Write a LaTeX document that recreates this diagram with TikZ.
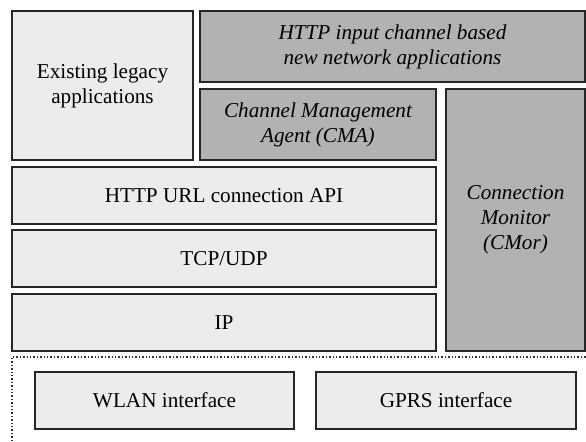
\documentclass[tikz,border=0pt]{standalone}
\usepackage{fontspec}
\setmainfont{Liberation Serif}
\usetikzlibrary{positioning}

\begin{document}
\begin{tikzpicture}[
  x=0.5pt, y=-0.5pt,
  lightbox/.style={rectangle, draw=black!85, line width=0.8pt, fill=gray!15,
    align=center, font=\fontsize{10.6}{12.6}\selectfont, inner sep=0pt},
  darkbox/.style={lightbox, fill=gray!60, font=\fontsize{10.6}{12.6}\selectfont\itshape},
  sepline/.style={densely dotted, line width=0.7pt, black!80}
]
\useasboundingbox (0,0) rectangle (586,441);
% === Applications ===
\node[lightbox, minimum width=90.5pt, minimum height=74.5pt] (legacy) at (102.5,85.5)
  {Existing legacy\\applications};
\node[darkbox, minimum width=192.5pt, minimum height=35.5pt] (newapps) at (392.5,46.5)
  {HTTP input channel based\\new network applications};
\node[darkbox, minimum width=118pt, minimum height=35.5pt] (cma) at (318,124.5)
  {Channel Management\\Agent (CMA)};
% === Protocol stack ===
\node[lightbox, minimum width=212pt, minimum height=28.5pt] (urlapi) at (224,195.5)
  {HTTP URL connection API};
\node[lightbox, minimum width=212pt, minimum height=28.5pt] (tcpudp) at (224,258.5)
  {TCP/UDP};
\node[lightbox, minimum width=212pt, minimum height=28.5pt] (ip) at (224,322.5)
  {IP};
\node[darkbox, minimum width=69.5pt, minimum height=131pt] (cmor) at (515.5,220)
  {Connection\\Monitor\\(CMor)};
% === Network interfaces ===
\coordinate (ifcorner) at (12,357);
\draw[sepline] (12,441) -- (ifcorner) -- (586,357);
\node[lightbox, minimum width=129.5pt, minimum height=28.5pt] (wlan) at (164.5,400.5)
  {WLAN interface};
\node[lightbox, minimum width=130pt, minimum height=28.5pt] (gprs) at (446,400.5)
  {GPRS interface};
\end{tikzpicture}
\end{document}
